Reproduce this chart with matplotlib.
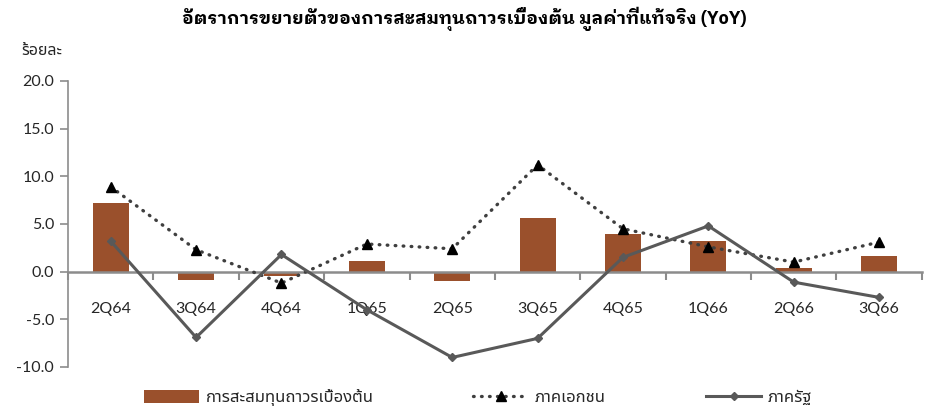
import matplotlib
matplotlib.use('Agg')
import matplotlib.pyplot as plt
import numpy as np

# data (% YoY)
quarters = ['2Q64', '3Q64', '4Q64', '1Q65', '2Q65', '3Q65', '4Q65', '1Q66', '2Q66', '3Q66']
gfcf = [7.2, -0.9, -0.5, 1.1, -1.0, 5.6, 4.0, 3.2, 0.4, 1.6]
private = [8.9, 2.3, -1.2, 2.9, 2.4, 11.2, 4.5, 2.6, 1.0, 3.1]
public = [3.2, -6.9, 1.8, -4.0, -9.0, -7.0, 1.5, 4.8, -1.1, -2.7]

labels = ['การสะสมทุนถาวรเบื้องต้น', 'ภาคเอกชน', 'ภาครัฐ']
title = 'อัตราการขยายตัวของการสะสมทุนถาวรเบื้องต้น มูลค่าที่แท้จริง (YoY)'
ylabel = 'ร้อยละ'

thai = ['Lato', 'Noto Sans Thai']
plt.rcParams['font.family'] = thai

fig = plt.figure(figsize=(9.28, 4.09), dpi=100)
ax = fig.add_axes([0.0733, 0.1027, 0.92, 0.6993])

x = np.arange(len(quarters))
bars = ax.bar(x, gfcf, width=0.42, color='#9A502C', zorder=2, label=labels[0])
l1, = ax.plot(x, private, linestyle=(0, (0.2, 2.2)), dash_capstyle='round', linewidth=2.4,
              color='#3F3F3F', marker='^', markersize=7, markerfacecolor='black',
              markeredgecolor='black', zorder=3, label=labels[1])
l2, = ax.plot(x, public, linestyle='-', linewidth=2.2, color='#595959', marker='D',
              markersize=4.5, zorder=4, label=labels[2])

ax.set_xlim(-0.5, len(quarters) - 0.5)
ax.set_ylim(-10, 20)
ax.set_yticks(np.arange(-10, 20.1, 5))
ax.set_yticklabels(['%.1f' % v for v in np.arange(-10, 20.1, 5)])

for s in ['top', 'right']:
    ax.spines[s].set_visible(False)
ax.spines['bottom'].set_position(('data', 0))
ax.spines['bottom'].set_color('#8C8C8C')
ax.spines['bottom'].set_linewidth(1.8)
ax.spines['left'].set_color('#8C8C8C')
ax.spines['left'].set_linewidth(1.2)

ax.set_xticks(np.arange(-0.5, len(quarters), 1.0))
ax.set_xticklabels([])
ax.set_xticks(x, minor=True)
ax.set_xticklabels(quarters, minor=True)
ax.tick_params(axis='x', which='major', direction='out', length=6, width=1.5, color='#8C8C8C')
ax.tick_params(axis='x', which='minor', length=0, pad=22, labelsize=11.5, labelcolor='#262626')
ax.tick_params(axis='y', direction='out', length=6, width=1.2, color='#8C8C8C',
               labelsize=11.5, labelcolor='#262626', pad=4)

fig.text(0.5, 0.955, title, ha='center', va='center', fontsize=13, fontweight='bold',
         family=['IBM Plex Sans Thai Looped', 'Noto Sans Thai', 'Lato'], color='black')
fig.text(0.067, 0.875, ylabel, ha='right', va='center', fontsize=11.5, color='#262626')

fig.legend([bars, l1, l2], labels, loc='lower center', bbox_to_anchor=(0.515, -0.03),
           ncol=3, frameon=False, numpoints=1,
           fontsize=12, handlelength=3.3, handleheight=0.75, columnspacing=6.0,
           handletextpad=0.4, labelcolor='#262626')

fig.savefig('out.png', dpi=100)
